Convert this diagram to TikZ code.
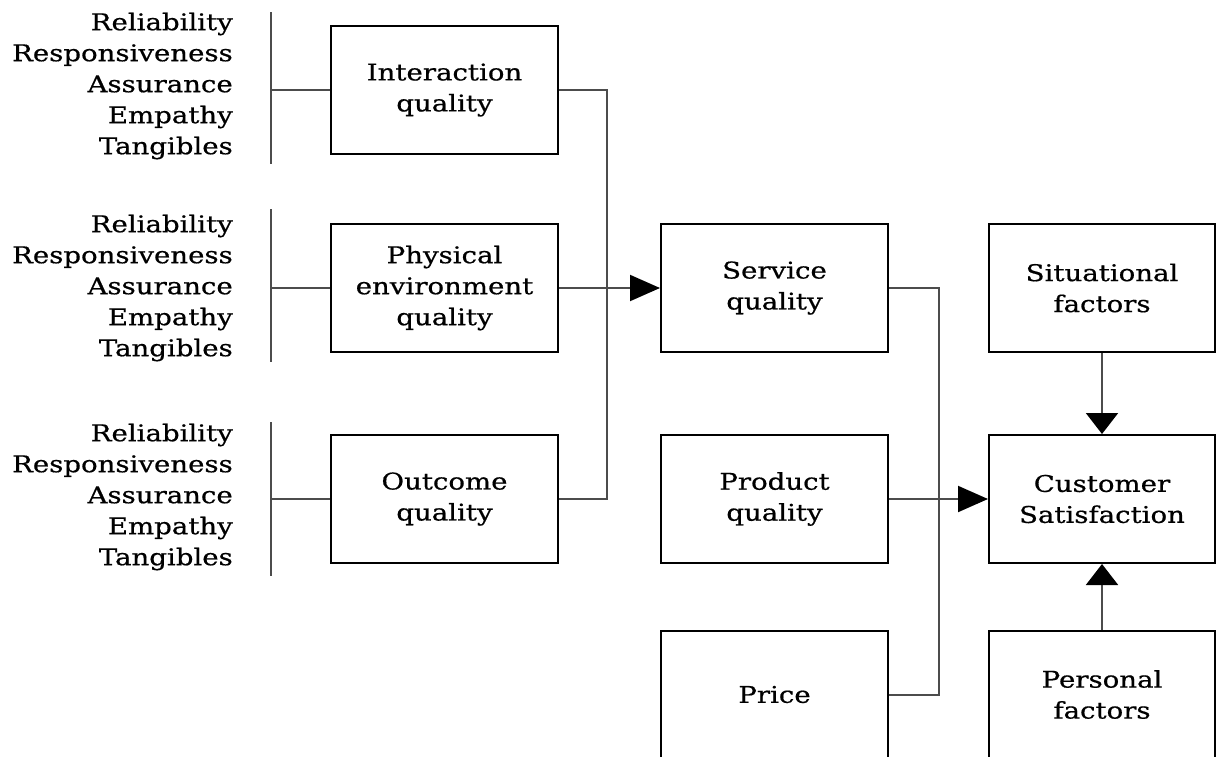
\documentclass[tikz,border=0pt]{standalone}
\usepackage{fontspec}
\newfontfamily\dfont[FakeStretch=1.2,FakeBold=0.6]{DejaVu Serif}
\usetikzlibrary{arrows.meta}
\begin{document}
\begin{tikzpicture}[x=1pt,y=-1pt,
  txt/.style={font=\dfont\fontsize{23}{31}\selectfont},
  box/.style={txt,draw=black,line width=2pt,minimum width=227pt,minimum height=128pt,inner sep=0pt,align=center},
  lab/.style={txt,anchor=east,align=right,inner sep=0pt},
  conn/.style={draw=black!70,line width=2pt},
  bar/.style={draw=black!70,line width=2pt},
  harr/.style={conn,-{Triangle[length=30pt,width=26pt,color=black]}},
  varr/.style={conn,-{Triangle[length=21pt,width=32pt,color=black]}}]
\useasboundingbox (0,0) rectangle (1216,756);
% left labels
\node[lab] (l1) at (233,86) {Reliability\\Responsiveness\\Assurance\\Empathy\\Tangibles};
\node[lab] (l2) at (233,288) {Reliability\\Responsiveness\\Assurance\\Empathy\\Tangibles};
\node[lab] (l3) at (233,497) {Reliability\\Responsiveness\\Assurance\\Empathy\\Tangibles};
% bars
\coordinate (b1t) at (271,12); \coordinate (b1b) at (271,164);
\coordinate (b2t) at (271,209); \coordinate (b2b) at (271,362);
\coordinate (b3t) at (271,422); \coordinate (b3b) at (271,576);
\draw[bar] (b1t) -- (b1b);
\draw[bar] (b2t) -- (b2b);
\draw[bar] (b3t) -- (b3b);
% boxes
\node[box] (inter) at (444.5,90) {Interaction\\quality};
\node[box] (phys) at (444.5,288) {Physical\\environment\\quality};
\node[box] (outc) at (444.5,499) {Outcome\\quality};
\node[box] (serv) at (774.5,288) {Service\\quality};
\node[box] (prod) at (774.5,499) {Product\\quality};
\node[box,minimum height=127pt] (price) at (774.5,694.5) {Price};
\node[box,minimum width=226pt] (sit) at (1102,288) {Situational\\factors};
\node[box,minimum width=226pt] (cust) at (1102,499) {Customer\\Satisfaction};
\node[box,minimum width=226pt,minimum height=127pt] (pers) at (1102,694.5) {Personal\\factors};
% connectors
\coordinate (sp1) at (607,0);
\coordinate (sp2) at (939,0);
\draw[conn] (inter.west) -- (inter.west -| b1t);
\draw[conn] (phys.west) -- (phys.west -| b2t);
\draw[conn] (outc.west) -- (outc.west -| b3t);
\draw[conn] (inter.east) -- (inter.east -| sp1) |- (outc.east);
\draw[harr] (phys.east) -- (serv.west);
\draw[conn] (serv.east) -- (serv.east -| sp2) |- (price.east);
\draw[harr] (prod.east) -- (cust.west);
\draw[varr] (sit.south) -- (cust.north);
\draw[varr] (pers.north) -- (cust.south);
\end{tikzpicture}
\end{document}
